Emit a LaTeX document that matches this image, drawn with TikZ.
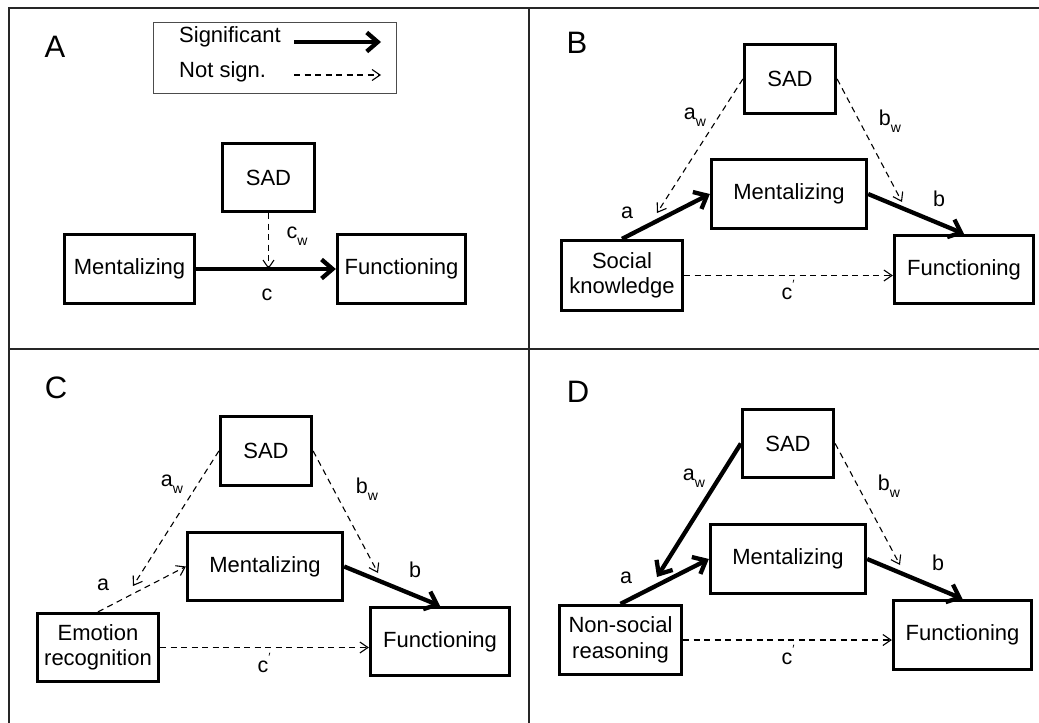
\documentclass[tikz,border=0pt]{standalone}
\usepackage{fontspec}
\setmainfont{Liberation Sans}
\usetikzlibrary{arrows.meta,calc}
\newcommand\wsub[1]{\raisebox{-0.35em}{\fontsize{14}{14}\selectfont #1}}
\newcommand\cprm{c\raisebox{0.5em}{\fontsize{12}{12}\selectfont\char"2032}}
\begin{document}
\begin{tikzpicture}[x=1pt,y=-1pt,
  grid/.style={line width=1.5pt, draw=black!85},
  box/.style={draw, line width=3.3pt, inner sep=0pt, font=\fontsize{22}{25.5}\selectfont, align=center},
  sig/.style={line width=4.3pt, -{Straight Barb[length=11pt,width=19pt]}},
  ns/.style={line width=1.1pt, dash pattern=on 6pt off 4.5pt, -{Straight Barb[length=8pt,width=11pt]}},
  lbl/.style={font=\fontsize{21.5}{23}\selectfont, inner sep=0pt},
  panel/.style={font=\fontsize{31}{33}\selectfont, inner sep=0pt},
]
\useasboundingbox (0,0) rectangle (1039,723);
\fill[white] (0,0) rectangle (1039,723);
% grid
\coordinate (g1) at (8,8);
\coordinate (g2) at (1039,8);
\coordinate (g3) at (9,723);
\coordinate (g4) at (9,349);
\coordinate (g5) at (1039,349);
\coordinate (g6) at (529,8);
\coordinate (g7) at (529,723);
\draw[grid] (g2) -- (g1 -| g3) -- (g3);
\draw[grid] (g4) -- (g5);
\draw[grid] (g6) -- (g7);

% ---------- Panel A ----------
\node[panel] (pA) at (55,47) {A};
\node[draw=black!70, line width=0.8pt, minimum width=243pt, minimum height=71pt, inner sep=0pt] (leg) at (274.5,57.5) {};
\node[lbl, font=\fontsize{22}{24}\selectfont, anchor=west] (lsig) at (179,37) {Significant};
\node[lbl, font=\fontsize{22}{24}\selectfont, anchor=west] (lns) at (179,72) {Not sign.};
\coordinate (ls1) at (294,42);
\coordinate (ls2) at (381,42);
\coordinate (ln1) at (294,75);
\coordinate (ln2) at (381,75);
\draw[sig] (ls1) -- (ls2);
\draw[ns] (ln1) -- (ln2);

\node[box, minimum width=92pt, minimum height=68pt] (Asad) at (268.5,177.5) {SAD};
\node[box, minimum width=130pt, minimum height=69pt] (Ament) at (129.5,269) {Mentalizing};
\node[box, minimum width=128pt, minimum height=69pt] (Afunc) at (401.5,269) {Functioning};
\draw[sig] (Ament.east) -- (Afunc.west);
\coordinate (Acw) at (Asad.south |- Ament.east);
\draw[ns] (Asad.south) -- (Acw);
\node[lbl] (Alcw) at (297,236) {c\wsub{w}};
\node[lbl] (Alc) at (267,295) {c};

% ---------- Panel B ----------
\node[panel] (pB) at (577,43) {B};
\node[box, minimum width=91pt, minimum height=69pt] (Bsad) at (790,79) {SAD};
\node[box, minimum width=155pt, minimum height=69pt] (Bment) at (789,194) {Mentalizing};
\node[box, minimum width=121pt, minimum height=70pt] (Bsk) at (622,275.5) {Social\\knowledge};
\node[box, minimum width=139pt, minimum height=68pt] (Bfunc) at (964,269.5) {Functioning};
\draw[sig] (Bsk.north) -- (Bment.west);
\draw[sig] (Bment.east) -- (Bfunc.north);
\coordinate (Baw) at (657,213);
\coordinate (Bbw) at (902,202);
\draw[ns] (Bsad.west) -- (Baw);
\draw[ns] (Bsad.east) -- (Bbw);
\draw[ns] (Bsk.east) -- (Bsk.east -| Bfunc.west);
\node[lbl] (Blaw) at (695,117) {a\wsub{w}};
\node[lbl] (Blbw) at (890,121) {b\wsub{w}};
\node[lbl] (Bla) at (627,213) {a};
\node[lbl] (Blb) at (939,199) {b};
\node[lbl] (Blc) at (788,290) {\cprm};

% ---------- Panel C ----------
\node[panel] (pC) at (56,388) {C};
\node[box, minimum width=91pt, minimum height=69pt] (Csad) at (266,451) {SAD};
\node[box, minimum width=155pt, minimum height=68pt] (Cment) at (265,566.5) {Mentalizing};
\node[box, minimum width=121pt, minimum height=68pt] (Cer) at (98,647.5) {Emotion\\recognition};
\node[box, minimum width=139pt, minimum height=68pt] (Cfunc) at (440,641.5) {Functioning};
\draw[ns] (Cer.north) -- (Cment.west);
\draw[sig] (Cment.east) -- (Cfunc.north);
\coordinate (Caw) at (133,586);
\coordinate (Cbw) at (378,573);
\draw[ns] (Csad.west) -- (Caw);
\draw[ns] (Csad.east) -- (Cbw);
\draw[ns] (Cer.east) -- (Cer.east -| Cfunc.west);
\node[lbl] (Claw) at (172,484) {a\wsub{w}};
\node[lbl] (Clbw) at (367,489) {b\wsub{w}};
\node[lbl] (Cla) at (103,585) {a};
\node[lbl] (Clb) at (415,570) {b};
\node[lbl] (Clc) at (264,663) {\cprm};

% ---------- Panel D ----------
\node[panel] (pD) at (578,392) {D};
\node[box, minimum width=91pt, minimum height=68pt] (Dsad) at (788,443.5) {SAD};
\node[box, minimum width=155pt, minimum height=69pt] (Dment) at (788,559) {Mentalizing};
\node[box, minimum width=122pt, minimum height=69pt] (Dnsr) at (620.5,640) {Non-social\\reasoning};
\node[box, minimum width=138pt, minimum height=69pt] (Dfunc) at (962.5,635) {Functioning};
\draw[sig] (Dnsr.north) -- (Dment.west);
\draw[sig] (Dment.east) -- (Dfunc.north);
\coordinate (Daw) at (657,577);
\coordinate (Dbw) at (900,565);
\draw[sig] (Dsad.west) -- (Daw);
\draw[ns] (Dsad.east) -- (Dbw);
\draw[ns] (Dnsr.east) -- (Dnsr.east -| Dfunc.west);
\node[lbl] (Dlaw) at (694,478) {a\wsub{w}};
\node[lbl] (Dlbw) at (889,486) {b\wsub{w}};
\node[lbl] (Dla) at (626,578) {a};
\node[lbl] (Dlb) at (938,563) {b};
\node[lbl] (Dlc) at (788,655) {\cprm};
\end{tikzpicture}
\end{document}
